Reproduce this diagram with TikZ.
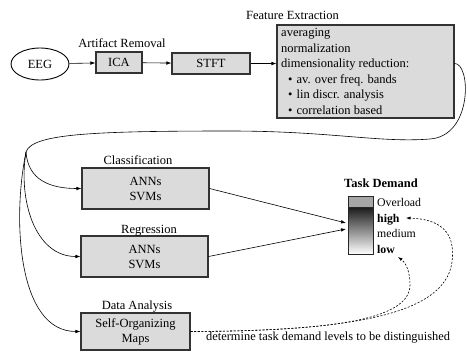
\documentclass[tikz,border=0pt]{standalone}
\usepackage{fontspec}
\setmainfont{Liberation Serif}
\usetikzlibrary{arrows.meta,shapes.geometric,calc}
\begin{document}
\begin{tikzpicture}[x=1pt,y=-1pt,
  font=\fontsize{12.5}{15}\selectfont,
  procbox/.style={draw=black!80, line width=1.1pt, fill=black!14, inner sep=0pt, align=center},
  caption/.style={inner sep=0pt, anchor=base},
  febullet/.style={inner sep=0pt, anchor=base west},
  scalelbl/.style={inner sep=0pt, anchor=base west, font=\fontsize{11.8}{14}\selectfont},
  conn/.style={line width=0.6pt, -{Latex[length=5pt,width=3.6pt]}},
  link/.style={line width=0.6pt},
  dconn/.style={line width=0.6pt, dash pattern=on 2pt off 1.6pt, -{Latex[length=4.5pt,width=3.2pt]}},
]
\useasboundingbox (0,0) rectangle (467,354);

% --- preprocessing chain
\node[draw, ellipse, line width=0.9pt, minimum width=58pt, minimum height=32pt, inner sep=0pt] (eeg) at (40,64) {EEG};
\node[procbox, minimum width=46pt, minimum height=21pt] (ica) at (119,62.5) {ICA};
\node[procbox, minimum width=78pt, minimum height=21pt] (stft) at (211,63.5) {STFT};
\node[procbox, minimum width=177pt, minimum height=93pt] (fe) at (365.5,71.5) {};

\node[caption] (lar) at (122,47) {Artifact Removal};
\node[caption] (lfe) at (292.5,19) {Feature Extraction};

% --- feature extraction contents
\node[febullet] (fe1) at (281,36.5) {averaging};
\node[febullet] (fe2) at (281,52) {normalization};
\node[febullet] (fe3) at (281,67.5) {dimensionality reduction:};
\node[febullet] (fe4) at (288,83) {\textbullet\hspace{4pt}av. over freq. bands};
\node[febullet] (fe5) at (288,98.5) {\textbullet\hspace{4pt}lin discr. analysis};
\node[febullet] (fe6) at (288,114) {\textbullet\hspace{4pt}correlation based};

% --- learning blocks
\node[procbox, minimum width=127pt, minimum height=41pt] (cls) at (145.5,188.5) {ANNs\\SVMs};
\node[procbox, minimum width=127pt, minimum height=41pt] (reg) at (144.5,256.5) {ANNs\\SVMs};
\node[procbox, minimum width=109pt, minimum height=37pt] (som) at (135.5,331.5) {Self-Organizing\\Maps};

\node[caption] (lcls) at (138,164) {Classification};
\node[caption] (lreg) at (149,233) {Regression};
\node[caption] (ldat) at (137,309) {Data Analysis};

% --- task demand scale
\node[caption, font=\fontsize{12.5}{15}\selectfont\bfseries] (ltd) at (381,187) {Task Demand};
\node[draw=black!85, line width=0.9pt, fill=black!35, minimum width=25pt, minimum height=11pt, inner sep=0pt] (ovl) at (360.5,201.5) {};
\node[draw=black!85, line width=0.9pt, top color=black!90, middle color=black!40, bottom color=white, minimum width=25pt, minimum height=47pt, inner sep=0pt] (bar) at (360.5,230.5) {};
\node[scalelbl] (sov) at (377,206) {Overload};
\node[scalelbl, font=\fontsize{11.8}{14}\selectfont\bfseries] (shi) at (377,222) {high};
\node[scalelbl] (smd) at (377,237) {medium};
\node[scalelbl, font=\fontsize{11.8}{14}\selectfont\bfseries] (slo) at (377,253) {low};

\node[inner sep=0pt, anchor=base west, font=\fontsize{12.4}{14}\selectfont] (note) at (206,340) {determine task demand levels to be distinguished};

% --- connectors
\draw[conn] (eeg) -- (ica);
\draw[conn] (ica) -- (stft);
\draw[conn] (stft.east) -- (stft.east -| fe.west);

\coordinate (split) at (26,152);
\draw[link] (stft.east -| fe.east) .. controls (471,63) and (473,136) .. (430,139)
  .. controls (380,143) and (330,131) .. (230,131)
  .. controls (90,131) and (32,134) .. (split);
\draw[conn] (split) .. controls (28,180) and (50,188.5) .. (cls.west);
\draw[conn] (split) .. controls (18,200) and (35,256.5) .. (reg.west);
\draw[conn] (split) .. controls (12,220) and (18,331.5) .. (som.west);

\coordinate (inA) at (346,223);
\coordinate (inB) at (346,229);
\draw[conn] (cls.east) -- (inA);
\draw[conn] (reg.east) -- (inB);

\coordinate (tolow) at (398,257);
\coordinate (tohigh) at (406,218);
\draw[dconn] (som.east) .. controls (330,331) and (410,320) .. (410,285)
  .. controls (410,270) and (405,262) .. (tolow);
\draw[dconn] (som.east) .. controls (350,331) and (445,315) .. (452,262)
  .. controls (456,232) and (440,219) .. (tohigh);
\end{tikzpicture}
\end{document}
